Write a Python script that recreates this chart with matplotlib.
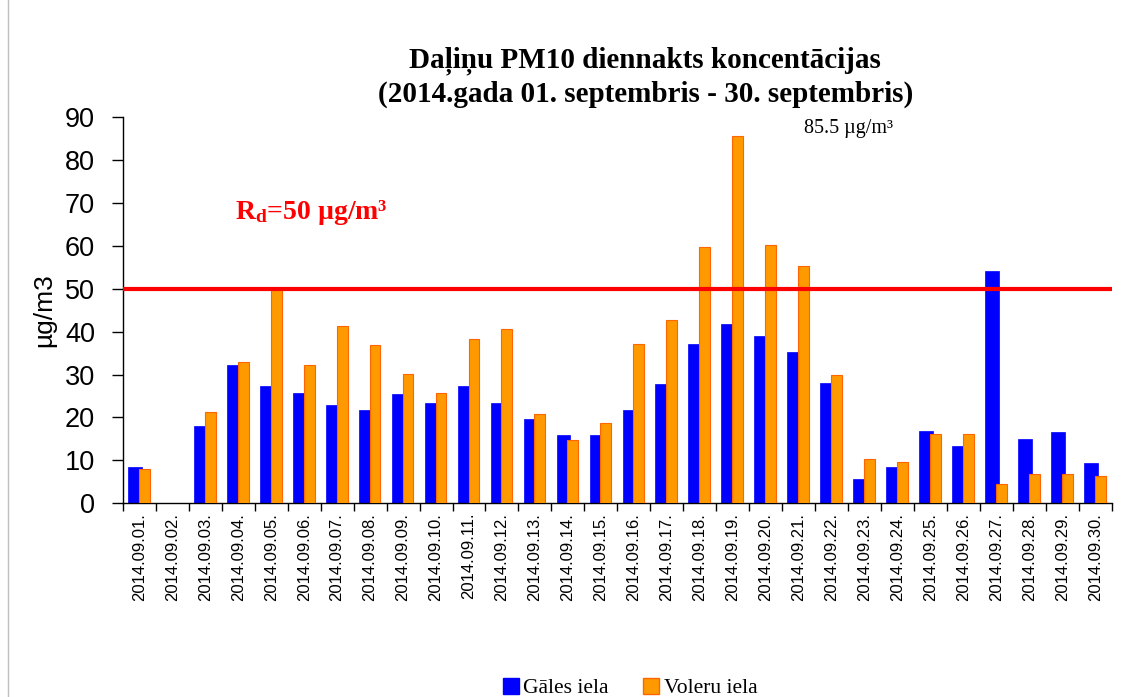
import matplotlib
matplotlib.use("Agg")
import matplotlib.pyplot as plt
import numpy as np
from matplotlib.lines import Line2D
from matplotlib.patches import Patch

plt.rcParams["mathtext.fontset"] = "custom"
plt.rcParams["mathtext.rm"] = "Liberation Serif"
plt.rcParams["mathtext.bf"] = "Liberation Serif:bold"
plt.rcParams["mathtext.it"] = "Liberation Serif:italic"

dates = [f"2014.09.{d:02d}." for d in range(1, 31)]
gales = [8.4, np.nan, 18.0, 32.2, 27.3, 25.7, 22.8, 21.8, 25.4, 23.4,
         27.3, 23.4, 19.7, 15.9, 15.9, 21.8, 27.8, 37.1, 41.8, 38.9,
         35.3, 28.0, 5.7, 8.4, 16.8, 13.4, 54.1, 14.9, 16.5, 9.3]
voleru = [7.9, np.nan, 21.2, 32.9, 50.0, 32.3, 41.3, 36.8, 30.2, 25.7,
          38.3, 40.6, 20.7, 14.7, 18.8, 37.1, 42.7, 59.7, 85.5, 60.3,
          55.3, 29.8, 10.2, 9.6, 16.2, 16.2, 4.5, 6.8, 6.8, 6.3]
limit = 50
yticks = [0, 10, 20, 30, 40, 50, 60, 70, 80, 90]

fig = plt.figure(figsize=(11.37, 6.97), dpi=100)
ax = fig.add_axes([0.108, 0.278, 0.870, 0.554])

x = np.arange(len(dates))
ax.bar(x - 0.135, gales, width=0.42, color="#0000FF", edgecolor="#0000FF", linewidth=0.5, zorder=2)
ax.bar(x + 0.15, voleru, width=0.33, color="#FF9900", edgecolor="#FF6600", linewidth=0.8, zorder=3)
ax.axhline(limit, color="#FF0000", linewidth=3, zorder=4)

ax.set_xlim(-0.5, len(dates) - 0.5)
ax.set_ylim(0, 90)
ax.set_yticks(yticks)
ax.set_yticklabels([str(t) for t in yticks], fontsize=19.5, family="Liberation Sans")
ax.set_xticks(x)
ax.set_xticklabels(dates, rotation=90, fontsize=12, family="Liberation Sans")
ax.set_xticks(np.arange(len(dates) + 1) - 0.5, minor=True)
ax.tick_params(axis="x", which="major", length=0, pad=7)
ax.tick_params(axis="x", which="minor", length=6, width=1, direction="out")
ax.tick_params(axis="y", length=8, width=1, direction="out", pad=12)
for s in ["top", "right"]:
    ax.spines[s].set_visible(False)
ax.spines["left"].set_linewidth(1)
ax.spines["bottom"].set_linewidth(1)
ax.set_ylabel("µg/m3", fontsize=19, family="Liberation Sans", labelpad=6)

fig.text(0.567, 0.913, "Daļiņu PM10 diennakts koncentācijas", ha="center", va="center",
         fontsize=21, fontweight="bold", family="Liberation Serif")
fig.text(0.568, 0.865, "(2014.gada 01. septembris - 30. septembris)", ha="center", va="center",
         fontsize=21, fontweight="bold", family="Liberation Serif")
ax.text(21.5, 87.3, "85.5 µg/m³", ha="center", va="center", fontsize=14.5,
        family="Liberation Serif")
ax.text(2.9, 67.8, r"R$_\mathbf{d}$=50 µg/m³", ha="left", va="center", fontsize=20,
        fontweight="bold", color="#FF0000", family="Liberation Serif")

fig.add_artist(Line2D([0.007, 0.007], [0.0, 1.0], color="#C0C0C0", linewidth=1))

handles = [Patch(facecolor="#0000FF", edgecolor="#0000FF"),
           Patch(facecolor="#FF9900", edgecolor="#FF6600")]
fig.legend(handles, ["Gāles iela", "Voleru iela"], loc="center", bbox_to_anchor=(0.554, 0.013),
           ncol=2, frameon=False, prop={"family": "Liberation Serif", "size": 15.5},
           handlelength=0.75, handleheight=0.75, handletextpad=0.2, columnspacing=1.6)

fig.savefig("out.png", dpi=100)
